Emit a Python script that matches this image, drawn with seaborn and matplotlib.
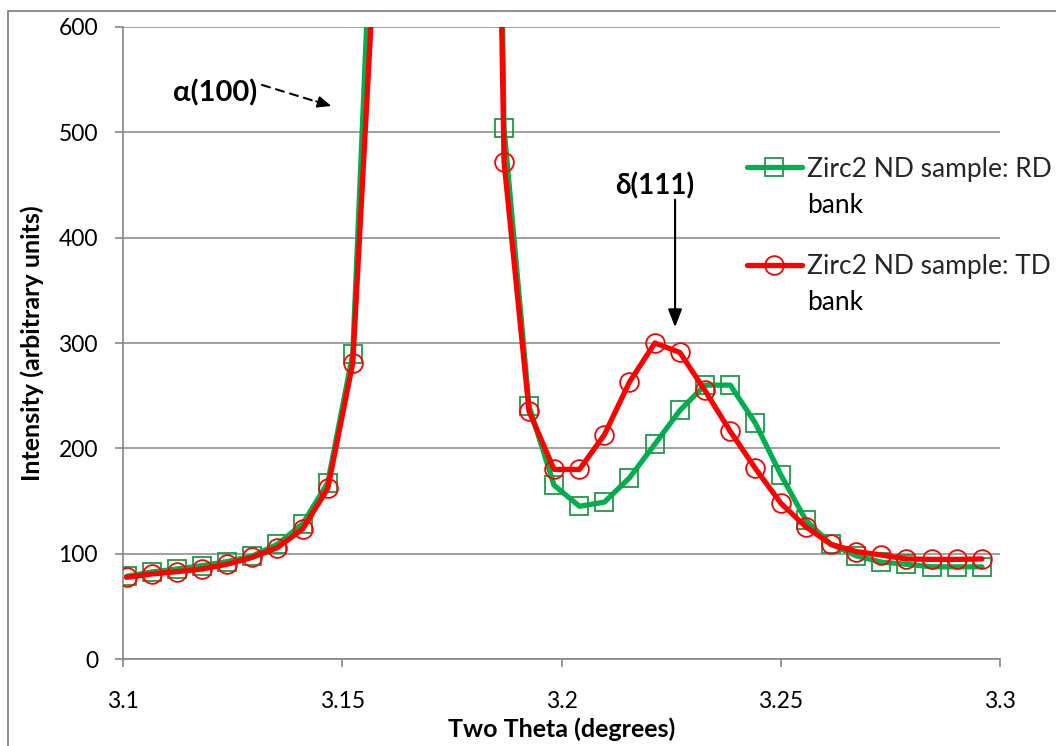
import matplotlib
matplotlib.use("Agg")
import matplotlib.pyplot as plt
from matplotlib.patches import Rectangle
import pandas as pd
import seaborn as sns

# Two-theta positions of the measured points (degrees)
two_theta = [3.1008, 3.1065, 3.1123, 3.1180, 3.1237, 3.1295, 3.1352, 3.1410,
             3.1467, 3.1524, 3.1582, 3.1639, 3.1696, 3.1754, 3.1811, 3.1869,
             3.1926, 3.1983, 3.2041, 3.2098, 3.2155, 3.2213, 3.2270, 3.2327,
             3.2385, 3.2442, 3.2500, 3.2557, 3.2614, 3.2672, 3.2729, 3.2786,
             3.2844, 3.2901, 3.2959]

# Intensities, RD bank
rd_bank = [78.5, 82.6, 85.4, 88.6, 92.4, 97.8, 108.9, 128.5, 167.4, 290.0,
           860, 3200, 4600, 3600, 2200, 504, 240, 165, 145, 149,
           172, 204, 236, 260, 260, 224, 175, 132, 109, 98,
           92, 90, 87.5, 87.5, 87.5]

# Intensities, TD bank
td_bank = [77.5, 80.7, 82.9, 85.4, 89.9, 96.5, 105.7, 123.5, 162.0, 281.0,
           730, 3000, 4400, 3400, 1870, 472, 235, 180, 180, 213,
           263, 300, 291, 255, 216, 181, 148, 125.6, 109, 102,
           98.7, 95, 94.6, 94.6, 95]

series_labels = ["Zirc2 ND sample: RD", "Zirc2 ND sample: TD"]
x_ticks = [3.1, 3.15, 3.2, 3.25, 3.3]
x_tick_labels = ["3.1", "3.15", "3.2", "3.25", "3.3"]
y_ticks = [0, 100, 200, 300, 400, 500, 600]

sns.set_theme(style="white")
plt.rcParams["font.family"] = ["Lato", "Noto Sans", "DejaVu Sans"]

GRID = "#868686"
GREEN = "#00B050"
GREEN_EDGE = "#1F9A48"
RED = "#FF0000"

df = pd.DataFrame({"two_theta": two_theta, "rd": rd_bank, "td": td_bank})

fig = plt.figure(figsize=(10.56, 7.46), dpi=100)
ax = fig.add_axes([123 / 1056, 1 - 659 / 746, 877 / 1056, 632 / 746])

# outer chart frame (runs off the right and bottom edges)
fig.patches.append(Rectangle((8 / 1056, -0.5), 2.0, 1 - 11 / 746 + 0.5,
                             transform=fig.transFigure, fill=False,
                             edgecolor=GRID, linewidth=1.3, clip_on=False))

sns.lineplot(data=df, x="two_theta", y="rd", ax=ax, color=GREEN, lw=3.8,
             marker="s", ms=13.5, mfc="none", mec=GREEN_EDGE, mew=1.3,
             label=series_labels[0], zorder=3)
sns.lineplot(data=df, x="two_theta", y="td", ax=ax, color=RED, lw=3.8,
             marker="o", ms=13.5, mfc="none", mec=RED, mew=1.3,
             label=series_labels[1], zorder=4)

ax.set_xlim(3.1, 3.3)
ax.set_ylim(0, 600)
ax.set_xticks(x_ticks)
ax.set_xticklabels(x_tick_labels)
ax.set_yticks(y_ticks)

ax.grid(axis="y", color=GRID, linewidth=1.1)
ax.grid(axis="x", visible=False)
ax.set_axisbelow(True)
for side in ("top", "right"):
    ax.spines[side].set_visible(False)
for side in ("left", "bottom"):
    ax.spines[side].set_color(GRID)
    ax.spines[side].set_linewidth(1.2)

ax.tick_params(axis="both", which="major", direction="out", length=6,
               width=1.2, color=GRID, labelsize=16.5, labelcolor="black",
               left=True, bottom=True)
ax.tick_params(axis="y", pad=12)
ax.tick_params(axis="x", pad=17)

ax.set_xlabel("Two Theta (degrees)", fontsize=18, fontweight="bold",
              color="black", labelpad=4)
ax.set_ylabel("Intensity (arbitrary units)", fontsize=18, fontweight="bold",
              color="black", labelpad=10)

leg = ax.legend(loc="upper left", bbox_to_anchor=(0.711, 0.795), frameon=False,
                fontsize=19, handlelength=2.1, handletextpad=0.2,
                labelspacing=2.75, borderpad=0, borderaxespad=0)
for txt in leg.get_texts():
    ax.annotate("bank", xy=(0, 0), xycoords=txt, xytext=(0, -8),
                textcoords="offset points", ha="left", va="top",
                fontsize=19, color="black", zorder=10)

# peak labels
ax.text(3.121, 537, "α(100)", fontsize=21, fontweight="bold", ha="center",
        va="center", color="black")
ax.annotate("", xy=(3.1450, 528), xytext=(3.1317, 545),
            arrowprops=dict(arrowstyle="-", linestyle=(0, (4, 3)), lw=1.5,
                            color="black", shrinkA=0, shrinkB=0))
ax.annotate("", xy=(3.1475, 525), xytext=(3.1440, 529.5),
            arrowprops=dict(arrowstyle="-|>,head_length=0.7,head_width=0.3",
                            lw=1.2, color="black", shrinkA=0, shrinkB=0))

ax.text(3.2213, 449, "δ(111)", fontsize=20, fontweight="bold", ha="center",
        va="center", color="black")
ax.annotate("", xy=(3.2259, 315), xytext=(3.2259, 436),
            arrowprops=dict(arrowstyle="-|>,head_length=0.9,head_width=0.35",
                            lw=1.5, color="black", shrinkA=0, shrinkB=0))

fig.savefig("out.png", dpi=100)
